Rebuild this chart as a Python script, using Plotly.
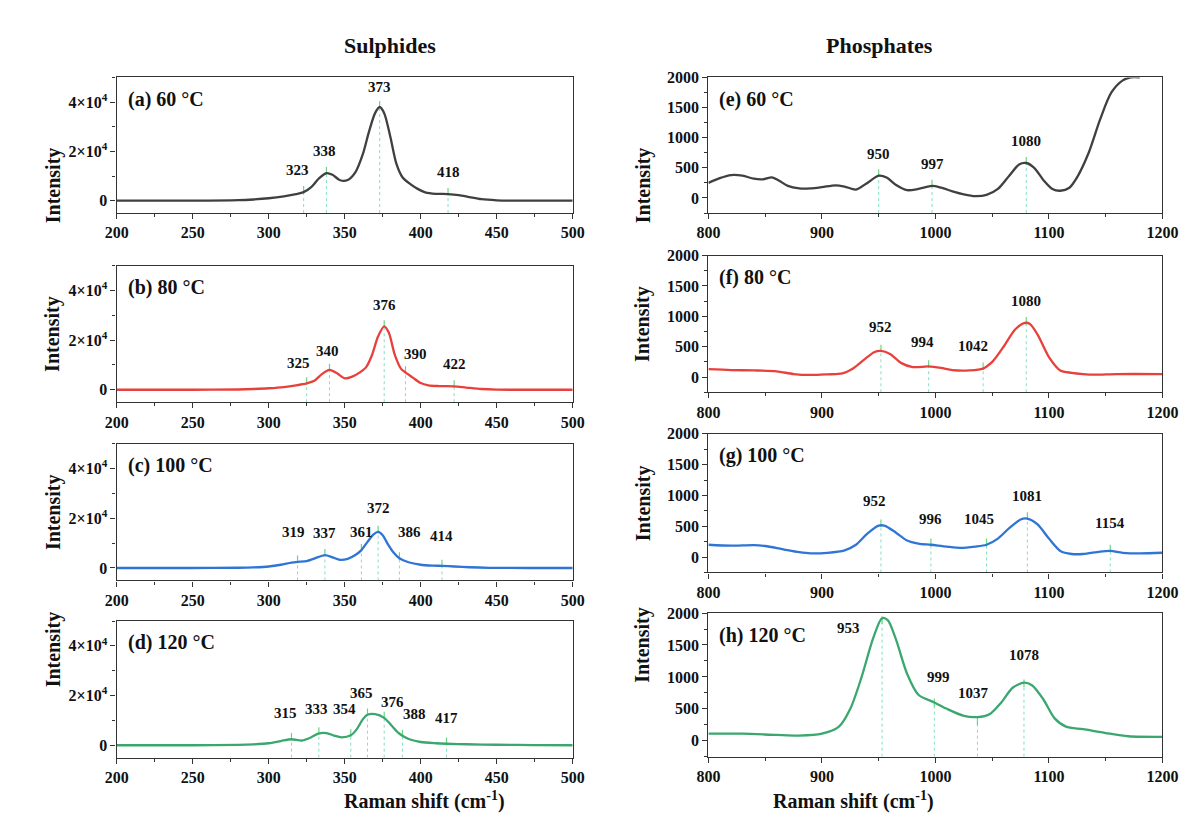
import plotly.graph_objects as go

# ---------------- data ----------------
# Sulphides (200-500 cm-1)
s60_x = [200, 250, 280, 290, 300, 310, 318, 323, 328, 333, 338, 342, 347, 352, 357, 362, 366, 370, 373, 376, 380, 384, 388, 393, 398, 403, 410, 418, 425, 432, 440, 450, 460, 480, 500]
s60_y = [0, 0, 200, 500, 1000, 1800, 2700, 3500, 5500, 9000, 11200, 10500, 8300, 8400, 11500, 19000, 28000, 35500, 38000, 35500, 26000, 15000, 9500, 6800, 4800, 3400, 2800, 2700, 2300, 1500, 600, 150, 20, 0, 0]

s80_x = [200, 250, 280, 290, 300, 310, 318, 325, 330, 335, 340, 345, 350, 355, 360, 364, 368, 372, 376, 379, 383, 387, 390, 395, 400, 405, 412, 422, 430, 440, 450, 470, 500]
s80_y = [0, 0, 100, 300, 600, 1100, 1800, 2600, 3600, 6300, 8000, 6600, 4600, 5300, 7000, 9000, 14000, 21500, 25500, 23000, 14000, 8500, 7000, 4800, 2700, 1800, 1500, 1400, 900, 300, 50, 0, 0]

s100_x = [200, 250, 280, 290, 300, 308, 315, 319, 325, 330, 337, 342, 347, 352, 357, 361, 365, 369, 372, 375, 378, 382, 386, 392, 400, 408, 414, 422, 432, 445, 470, 500]
s100_y = [0, 0, 100, 250, 600, 1300, 2200, 2500, 2800, 3800, 5200, 4300, 3300, 3700, 5200, 7200, 10500, 13500, 14500, 13200, 10000, 6300, 3900, 2300, 1300, 950, 850, 600, 300, 80, 0, 0]

s120_x = [200, 250, 280, 290, 300, 308, 315, 322, 328, 333, 338, 343, 348, 354, 358, 362, 365, 370, 376, 380, 385, 388, 393, 400, 410, 417, 430, 450, 475, 500]
s120_y = [0, 0, 150, 350, 800, 1700, 2400, 1900, 3200, 4800, 4900, 3900, 3200, 4000, 6500, 10500, 12300, 12500, 11000, 8500, 5200, 3800, 2300, 1300, 800, 600, 400, 200, 80, 0]

s_peaks = {
    "a": ([323, 338, 373, 418], [3500, 11200, 38000, 2700]),
    "b": ([325, 340, 376, 390, 422], [2600, 8000, 25500, 7000, 1400]),
    "c": ([319, 337, 361, 372, 386, 414], [2500, 5200, 7200, 14500, 3900, 850]),
    "d": ([315, 333, 354, 365, 376, 388, 417], [2400, 4800, 4000, 12300, 11000, 3800, 600]),
}

# Phosphates (800-1200 cm-1)
p60_x = [800, 810, 820, 830, 840, 848, 856, 862, 870, 880, 890, 900, 912, 920, 930, 940, 950, 957, 965, 975, 985, 997, 1005, 1015, 1025, 1035, 1045, 1055, 1065, 1074, 1080, 1087, 1095, 1103, 1110, 1118, 1125, 1135, 1145, 1155, 1165, 1172, 1180]
p60_y = [250, 330, 380, 370, 320, 310, 340, 290, 200, 160, 160, 180, 210, 190, 140, 250, 370, 340, 220, 130, 150, 200, 170, 110, 60, 30, 50, 150, 370, 560, 580, 500, 300, 150, 120, 170, 350, 750, 1300, 1750, 1950, 2000, 2000]

p80_x = [800, 820, 840, 860, 875, 890, 905, 918, 928, 938, 946, 952, 960, 970, 980, 994, 1005, 1015, 1030, 1042, 1050, 1060, 1070, 1078, 1083, 1090, 1100, 1110, 1120, 1130, 1140, 1160, 1200]
p80_y = [130, 115, 110, 95, 50, 35, 45, 60, 150, 300, 410, 430, 380, 230, 165, 175, 150, 115, 110, 140, 250, 500, 780, 890, 880, 700, 330, 110, 70, 50, 40, 50, 50]

p100_x = [800, 820, 840, 850, 865, 880, 890, 905, 920, 930, 940, 950, 955, 965, 975, 985, 996, 1010, 1022, 1035, 1045, 1055, 1065, 1075, 1081, 1090, 1100, 1110, 1120, 1130, 1145, 1154, 1165, 1180, 1200]
p100_y = [200, 185, 195, 180, 130, 80, 60, 70, 110, 200, 380, 510, 510, 400, 270, 220, 200, 170, 150, 170, 200, 300, 470, 610, 625, 530, 300, 100, 50, 50, 90, 100, 70, 60, 70]

p120_x = [800, 830, 860, 880, 900, 915, 925, 935, 945, 953, 958, 965, 975, 985, 999, 1010, 1025, 1037, 1048, 1058, 1068, 1078, 1085, 1095, 1105, 1115, 1130, 1150, 1170, 1200]
p120_y = [110, 110, 90, 80, 110, 220, 500, 1000, 1600, 1920, 1890, 1600, 1050, 720, 600, 500, 390, 370, 420, 600, 830, 910, 870, 650, 350, 220, 180, 120, 70, 60]

p_peaks = {
    "e": ([950, 997, 1080], [370, 200, 580]),
    "f": ([952, 994, 1042, 1080], [430, 175, 140, 890]),
    "g": ([952, 996, 1045, 1081, 1154], [510, 200, 200, 625, 100]),
    "h": ([953, 999, 1037, 1078], [1850, 560, 270, 860]),
}

panel_titles = ["(a) 60 °C", "(b) 80 °C", "(c) 100 °C", "(d) 120 °C",
                "(e) 60 °C", "(f) 80 °C", "(g) 100 °C", "(h) 120 °C"]
s_tickvals = [0, 20000, 40000]
s_ticktext = ["0", "2×10<sup>4</sup>", "4×10<sup>4</sup>"]
p_tickvals = [0, 500, 1000, 1500, 2000]
s_xticks = [200, 250, 300, 350, 400, 450, 500]
p_xticks = [800, 900, 1000, 1100, 1200]
colors = ["#404040", "#e8413c", "#2f75d6", "#3aa86e"]

# ---------------- layout helpers ----------------
W, H = 1190, 816
FONT = "Liberation Serif, Times New Roman, serif"
col_x = [(99, 566), (705, 1170)]
col_tops = [[62, 252, 432, 611], [62, 242, 422, 603]]
col_h = [[137, 138, 138, 138], [137, 138, 140, 145]]

series = [(s60_x, s60_y), (s80_x, s80_y), (s100_x, s100_y), (s120_x, s120_y),
          (p60_x, p60_y), (p80_x, p80_y), (p100_x, p100_y), (p120_x, p120_y)]
peaks = [s_peaks["a"], s_peaks["b"], s_peaks["c"], s_peaks["d"],
         p_peaks["e"], p_peaks["f"], p_peaks["g"], p_peaks["h"]]

# label pixel offsets (dx, dy) per panel, per peak
label_off = [
    [(-6, 6), (-2, 6), (0, 4), (0, 6)],
    [(-8, 4), (-2, 3), (0, 5), (10, 2), (0, 6)],
    [(-4, 14), (0, 6), (0, 2), (0, 8), (10, 10), (0, 14)],
    [(-6, 10), (-2, 8), (-6, 10), (-6, 6), (8, 0), (12, 6), (0, 10)],
    [(0, 6), (0, 6), (0, 6)],
    [(0, 8), (-6, 8), (-10, 6), (0, 6)],
    [(-6, 8), (0, 10), (-8, 10), (0, 6), (0, 12)],
    [(-34, -22), (4, 12), (-4, 14), (0, 14)],
]

fig = go.Figure()
annotations = []

for i in range(8):
    col = 0 if i < 4 else 1
    row = i % 4
    ax = "" if i == 0 else str(i + 1)
    xref = "x" + ax
    yref = "y" + ax
    x0p, x1p = col_x[col]
    top = col_tops[col][row]
    bot = top + col_h[col][row]
    xdom = [x0p / W, x1p / W]
    ydom = [1 - bot / H, 1 - top / H]
    if col == 0:
        xr, yr = [200, 500], [-5000, 50000]
        xtv = s_xticks
        ytv, ytt = s_tickvals, s_ticktext
        ydt_minor, xdt_minor = 10000, 25
    else:
        xr, yr = [800, 1200], [-250, 2000]
        xtv = p_xticks
        ytv, ytt = p_tickvals, [str(v) for v in p_tickvals]
        ydt_minor, xdt_minor = 250, 50
    yspan = yr[1] - yr[0]

    px, py = peaks[i]
    # dashed drop lines
    dx, dy = [], []
    for p, v in zip(px, py):
        dx += [p, p, None]
        dy += [yr[0], v, None]
    fig.add_trace(go.Scatter(x=dx, y=dy, mode="lines", xaxis=xref, yaxis=yref,
                             line=dict(color="rgba(120,220,190,0.9)", width=1, dash="dot"),
                             hoverinfo="skip", showlegend=False))
    # short solid marker segments
    sx, sy = [], []
    for p, v in zip(px, py):
        sx += [p, p, None]
        sy += [v - 0.01 * yspan, v + 0.045 * yspan, None]
    fig.add_trace(go.Scatter(x=sx, y=sy, mode="lines", xaxis=xref, yaxis=yref,
                             line=dict(color="rgba(90,210,110,0.9)", width=1.2),
                             hoverinfo="skip", showlegend=False))
    # spectrum
    cx, cy = series[i]
    fig.add_trace(go.Scatter(x=cx, y=cy, mode="lines", xaxis=xref, yaxis=yref,
                             line=dict(color=colors[row], width=2.3, shape="spline", smoothing=0.8),
                             showlegend=False))

    common_ax = dict(showline=True, linecolor="#333", linewidth=1.4, mirror=True,
                     showgrid=False, zeroline=False, ticks="outside", ticklen=5,
                     tickwidth=1.3, tickcolor="#333",
                     tickfont=dict(family=FONT, size=16, color="#111"))
    fig.update_layout(**{
        "xaxis" + ax: dict(domain=xdom, range=xr, anchor=yref, tickvals=xtv,
                           ticktext=["<b>%d</b>" % v for v in xtv],
                           minor=dict(dtick=xdt_minor, ticks="outside", ticklen=3, tickcolor="#333"),
                           **common_ax),
        "yaxis" + ax: dict(domain=ydom, range=yr, anchor=xref, tickvals=ytv,
                           ticktext=["<b>%s</b>" % t for t in ytt],
                           minor=dict(dtick=ydt_minor, ticks="outside", ticklen=3, tickcolor="#333"),
                           **common_ax),
    })

    # panel title
    annotations.append(dict(x=xr[0] + 0.02 * (xr[1] - xr[0]), y=yr[1] - 0.06 * yspan,
                            xref=xref, yref=yref, text="<b>%s</b>" % panel_titles[i],
                            showarrow=False, xanchor="left", yanchor="top",
                            font=dict(family=FONT, size=20, color="#111")))
    # peak labels
    for (p, v), (ox, oy) in zip(zip(px, py), label_off[i]):
        annotations.append(dict(x=p, y=v + 0.045 * yspan, xref=xref, yref=yref,
                                text="<b>%d</b>" % p, showarrow=False,
                                xanchor="center", yanchor="bottom", xshift=ox, yshift=oy,
                                font=dict(family=FONT, size=15, color="#111")))
    # Intensity label
    ix = 20 if col == 0 else 638
    annotations.append(dict(x=ix / W, y=1 - (top + col_h[col][row] / 2) / H, xref="paper", yref="paper",
                            text="<b>Intensity</b>", textangle=-90, showarrow=False,
                            font=dict(family=FONT, size=20, color="#111")))

# column titles and x-axis titles
for txt, cx in [("Sulphides", 330), ("Phosphates", 937)]:
    annotations.append(dict(x=cx / W, y=1 - 15 / H, xref="paper", yref="paper",
                            text="<b>%s</b>" % txt, showarrow=False,
                            font=dict(family=FONT, size=22, color="#111")))
for cx in [330, 938]:
    annotations.append(dict(x=cx / W, y=1 - 807 / H, xref="paper", yref="paper",
                            text="<b>Raman shift (cm<sup>-1</sup>)</b>", showarrow=False,
                            font=dict(family=FONT, size=20, color="#111")))

fig.update_layout(width=W, height=H, margin=dict(l=0, r=0, t=0, b=0),
                  paper_bgcolor="white", plot_bgcolor="white",
                  annotations=annotations, showlegend=False)

fig.write_html("out.html")
